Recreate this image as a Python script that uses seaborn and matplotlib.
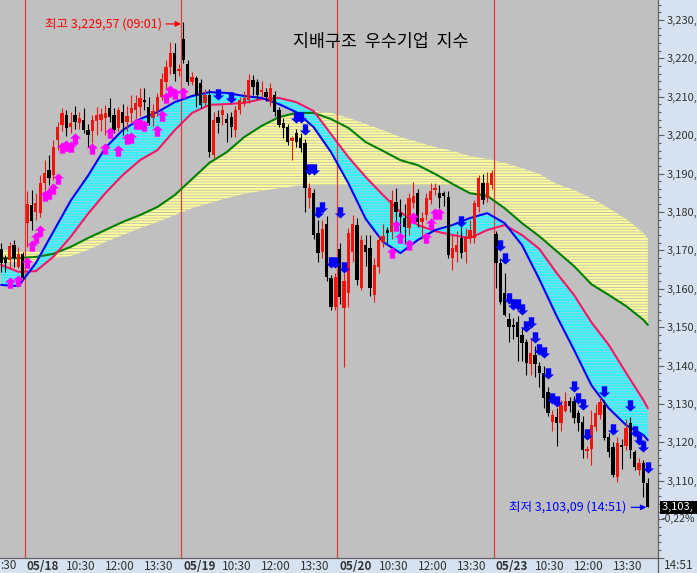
import numpy as np
import pandas as pd
import matplotlib
matplotlib.use("Agg")
import matplotlib.pyplot as plt
import matplotlib.transforms as mtransforms
from matplotlib.path import Path
from matplotlib.lines import Line2D
from matplotlib.ticker import FixedLocator, MultipleLocator, FuncFormatter
import seaborn as sns

# 10-minute bars, bar 0 = 05/18 09:00, 36 bars per session (09:00-14:50)
bars = list(range(-6, 144))
opens = [3170.4, 3168.0, 3167.5, 3171.4, 3165.7, 3169.1,
         3177.1, 3181.8, 3180.0, 3179.7, 3187.5, 3190.9, 3189.6, 3198.7, 3202.7, 3205.3,
         3202.1, 3205.3, 3203.1, 3204.0, 3201.4, 3201.1, 3203.7, 3204.0, 3204.5, 3207.1,
         3205.3, 3201.9, 3206.0, 3203.4, 3205.8, 3206.5, 3207.3, 3209.2, 3207.3, 3204.5,
         3206.3, 3209.9, 3213.8, 3217.8, 3221.4, 3216.7, 3225.0, 3218.6, 3213.9, 3214.9,
         3213.6, 3208.4, 3210.5, 3194.8, 3204.8, 3205.2, 3204.2, 3204.8, 3201.3, 3206.6,
         3208.4, 3209.2, 3214.4, 3213.9, 3211.2, 3211.2, 3208.6, 3210.5, 3206.6, 3203.2,
         3202.1, 3198.5, 3200.6, 3199.3, 3198.0, 3183.6, 3184.9, 3174.5, 3169.6, 3176.8,
         3162.8, 3155.3, 3170.4, 3155.0, 3158.9, 3169.6, 3176.6, 3160.2, 3171.4, 3170.6,
         3158.4, 3165.7, 3172.2, 3175.2, 3174.8, 3182.6, 3179.7, 3178.4, 3175.8, 3182.3,
         3184.9, 3177.4, 3179.2, 3183.1, 3185.7, 3184.9, 3184.9, 3183.9, 3168.0, 3169.6,
         3173.2, 3169.6, 3173.2, 3173.2, 3181.3, 3187.5, 3183.6, 3187.0, 3174.3, 3166.7,
         3158.9, 3152.1, 3150.6, 3151.3, 3148.0, 3146.1, 3140.4, 3142.8, 3139.9, 3138.1,
         3133.1, 3125.3, 3126.6, 3125.0, 3128.2, 3130.8, 3130.8, 3127.6, 3125.3, 3117.7,
         3118.2, 3124.0, 3127.1, 3129.7, 3121.4, 3118.8, 3111.0, 3119.2, 3119.0, 3125.0,
         3117.5, 3112.8, 3114.6, 3109.4]
highs = [3171.9, 3168.8, 3172.2, 3172.7, 3170.9, 3169.5,
         3185.5, 3185.7, 3185.0, 3189.6, 3193.5, 3194.8, 3198.7, 3203.4, 3207.1, 3206.5,
         3206.0, 3207.6, 3206.0, 3207.0, 3203.0, 3205.3, 3207.3, 3207.0, 3207.9, 3209.7,
         3207.0, 3207.3, 3208.0, 3207.5, 3210.5, 3210.5, 3212.3, 3212.3, 3210.0, 3208.0,
         3211.0, 3216.2, 3219.6, 3224.3, 3224.0, 3218.5, 3229.57, 3219.6, 3216.5, 3215.5,
         3214.5, 3212.0, 3212.0, 3206.0, 3206.6, 3207.9, 3205.8, 3206.0, 3207.5, 3210.0,
         3211.5, 3216.0, 3215.7, 3214.5, 3214.0, 3212.3, 3213.5, 3211.5, 3207.3, 3204.5,
         3203.0, 3199.8, 3201.5, 3200.5, 3199.0, 3187.5, 3186.0, 3178.0, 3178.0, 3179.0,
         3163.5, 3164.0, 3172.0, 3164.0, 3175.8, 3179.2, 3178.5, 3174.0, 3174.0, 3174.0,
         3168.0, 3174.0, 3177.0, 3176.0, 3185.7, 3186.2, 3183.3, 3182.0, 3185.0, 3187.7,
         3186.0, 3180.0, 3185.0, 3187.5, 3187.5, 3187.0, 3185.5, 3185.5, 3174.0, 3175.0,
         3176.0, 3175.7, 3178.0, 3183.0, 3189.6, 3190.0, 3190.5, 3191.0, 3175.0, 3168.0,
         3164.1, 3153.7, 3152.5, 3153.0, 3150.0, 3147.0, 3147.2, 3145.0, 3141.0, 3140.0,
         3134.5, 3128.5, 3129.0, 3131.0, 3133.0, 3131.9, 3132.0, 3128.5, 3127.0, 3119.0,
         3128.5, 3130.0, 3131.8, 3131.0, 3122.5, 3120.0, 3121.4, 3121.0, 3126.0, 3126.5,
         3118.0, 3116.0, 3115.5, 3110.7]
lows = [3164.4, 3164.4, 3165.4, 3165.7, 3165.4, 3162.3,
        3170.9, 3175.3, 3178.0, 3178.7, 3185.7, 3187.0, 3188.3, 3196.1, 3201.0, 3199.8,
        3200.5, 3201.5, 3201.5, 3200.5, 3196.9, 3198.0, 3200.0, 3201.0, 3200.0, 3203.4,
        3200.5, 3201.0, 3200.0, 3201.0, 3203.4, 3204.5, 3205.0, 3206.5, 3202.7, 3202.5,
        3205.0, 3209.2, 3212.0, 3216.0, 3214.0, 3215.5, 3218.8, 3213.1, 3213.0, 3207.3,
        3207.0, 3207.5, 3194.3, 3194.0, 3200.6, 3202.6, 3198.2, 3199.5, 3199.5, 3205.5,
        3207.5, 3208.5, 3210.5, 3209.5, 3210.0, 3209.0, 3207.5, 3205.0, 3202.0, 3199.3,
        3197.5, 3193.5, 3197.0, 3195.5, 3180.0, 3181.0, 3173.0, 3167.0, 3168.0, 3162.0,
        3154.5, 3154.5, 3156.0, 3139.6, 3155.3, 3167.0, 3161.0, 3159.8, 3166.0, 3158.0,
        3156.6, 3164.0, 3171.0, 3172.0, 3173.0, 3177.0, 3174.0, 3171.7, 3174.0, 3181.0,
        3176.0, 3173.0, 3178.0, 3182.0, 3184.5, 3181.0, 3181.5, 3168.0, 3165.0, 3167.0,
        3168.0, 3166.6, 3172.0, 3172.0, 3180.0, 3182.0, 3182.5, 3186.0, 3160.2, 3156.0,
        3153.0, 3146.1, 3147.0, 3141.3, 3141.3, 3137.6, 3137.6, 3137.0, 3134.4, 3129.0,
        3127.0, 3123.0, 3119.0, 3123.0, 3128.0, 3128.0, 3125.0, 3123.0, 3116.0, 3116.0,
        3114.0, 3123.0, 3126.0, 3120.5, 3116.2, 3111.0, 3109.7, 3113.0, 3118.0, 3116.0,
        3112.8, 3111.5, 3105.8, 3103.09]
closes = [3166.7, 3166.7, 3171.1, 3168.0, 3169.1, 3162.8,
          3182.1, 3177.7, 3182.3, 3187.5, 3190.1, 3188.8, 3196.9, 3202.1, 3205.8, 3201.9,
          3203.1, 3203.4, 3204.5, 3201.4, 3200.1, 3204.0, 3205.3, 3205.5, 3205.8, 3204.7,
          3201.4, 3206.5, 3203.1, 3205.0, 3207.1, 3208.4, 3209.7, 3208.6, 3203.1, 3206.3,
          3209.9, 3214.6, 3217.8, 3221.4, 3215.9, 3217.2, 3219.6, 3213.8, 3215.1, 3210.5,
          3207.9, 3210.5, 3195.6, 3204.0, 3203.2, 3206.6, 3203.2, 3202.1, 3206.6, 3209.2,
          3209.7, 3214.4, 3212.5, 3210.5, 3211.8, 3209.9, 3212.3, 3206.0, 3202.6, 3201.9,
          3198.2, 3199.3, 3198.2, 3196.7, 3186.2, 3186.2, 3174.0, 3169.3, 3175.6, 3163.1,
          3155.3, 3163.1, 3157.9, 3162.0, 3174.5, 3176.8, 3162.3, 3172.7, 3169.6, 3160.2,
          3166.2, 3172.7, 3173.8, 3174.5, 3183.1, 3180.0, 3178.7, 3176.1, 3183.6, 3184.1,
          3177.4, 3178.4, 3183.6, 3185.5, 3186.2, 3183.6, 3184.1, 3168.8, 3170.6, 3171.4,
          3169.3, 3173.5, 3175.3, 3182.3, 3188.8, 3183.1, 3187.5, 3190.1, 3166.7, 3156.6,
          3153.2, 3150.1, 3150.1, 3147.4, 3145.9, 3140.7, 3143.3, 3140.4, 3138.1, 3131.6,
          3127.6, 3127.1, 3125.0, 3129.7, 3130.8, 3129.6, 3126.3, 3125.0, 3118.0, 3118.2,
          3124.5, 3127.6, 3130.5, 3121.1, 3117.5, 3111.5, 3119.8, 3118.8, 3123.7, 3118.0,
          3113.6, 3114.6, 3109.4, 3103.1]

# moving-average lines (every 4th bar)
ma_bars = [-6, -2, 2, 6, 10, 14, 18, 22, 26, 30, 34, 38, 42, 46, 50, 54, 58, 62, 66, 70,
           74, 78, 82, 86, 90, 94, 98, 102, 106, 110, 114, 118, 122, 126, 130, 134, 138, 142, 143]
ma_fast = [3161.0, 3160.7, 3166.7, 3174.8, 3182.9, 3189.4, 3196.7, 3201.3, 3204.2, 3206.0,
           3208.6, 3210.2, 3211.2, 3211.0, 3210.2, 3209.7, 3208.1, 3206.0, 3202.1, 3195.6,
           3187.5, 3178.2, 3172.2, 3169.3, 3172.7, 3175.3, 3176.6, 3178.4, 3179.7, 3177.1,
           3171.4, 3162.5, 3152.9, 3144.1, 3134.9, 3128.9, 3124.5, 3121.9, 3120.6]
ma_mid = [3166.2, 3164.4, 3164.6, 3168.3, 3173.5, 3179.5, 3184.9, 3189.6, 3193.5, 3196.1,
          3201.3, 3205.8, 3207.9, 3208.1, 3208.4, 3209.4, 3209.7, 3208.6, 3206.3, 3200.3,
          3194.3, 3189.1, 3184.4, 3180.0, 3176.6, 3175.0, 3174.0, 3173.2, 3175.3, 3176.6,
          3174.0, 3170.4, 3164.1, 3158.4, 3151.3, 3145.4, 3138.1, 3131.0, 3128.9]
ma_slow = [3168.0, 3168.0, 3168.3, 3169.1, 3170.9, 3173.2, 3175.3, 3177.4, 3179.2, 3181.3,
           3184.4, 3188.6, 3192.8, 3195.6, 3199.5, 3202.4, 3204.7, 3205.8, 3205.8, 3204.2,
           3201.9, 3198.2, 3195.9, 3193.5, 3192.2, 3189.9, 3187.3, 3184.9, 3184.2, 3181.0,
           3177.1, 3173.7, 3169.8, 3165.9, 3161.2, 3158.4, 3155.5, 3151.9, 3150.6]
band_top = [3170.1, 3169.8, 3169.6, 3169.6, 3170.9, 3173.2, 3175.3, 3177.4, 3179.2, 3181.3,
            3184.4, 3188.6, 3192.8, 3195.6, 3199.5, 3202.4, 3204.7, 3205.8, 3206.3, 3205.8,
            3204.5, 3202.9, 3201.3, 3199.5, 3198.2, 3196.9, 3195.9, 3194.6, 3193.8, 3192.8,
            3191.4, 3189.9, 3187.3, 3185.7, 3183.6, 3181.0, 3178.2, 3174.5, 3173.2]
band_bottom = [3167.0, 3167.0, 3167.2, 3168.0, 3168.5, 3170.1, 3172.2, 3174.0, 3175.8, 3177.4,
               3179.2, 3181.0, 3182.3, 3183.6, 3184.7, 3185.5, 3186.2, 3186.8, 3187.0, 3187.0,
               3187.0, 3187.0, 3187.0, 3187.0, 3187.0, 3187.0, 3187.0, 3184.9, 3184.2, 3181.0,
               3177.1, 3173.7, 3169.8, 3165.9, 3161.2, 3158.4, 3155.5, 3151.9, 3150.6]

# buy / sell signal arrows
buy_bars = [-4, -2, 0, 1, 2, 3, 4, 5, 6, 7, 8, 9, 10, 11, 15, 18, 19, 21, 23, 24,
            25, 26, 27, 30, 31, 32, 33, 34, 36, 84, 85, 86, 88, 89, 92, 93, 94, 95]
buy_price = [3163.1, 3163.6, 3168.3, 3172.7, 3174.8, 3176.6, 3185.7, 3186.2, 3187.5, 3190.1,
             3198.2, 3198.7, 3198.5, 3200.6, 3198.0, 3198.0, 3202.1, 3197.4, 3200.6, 3200.8,
             3204.5, 3204.5, 3204.0, 3202.7, 3206.6, 3211.2, 3213.1, 3212.3, 3212.5,
             3170.9, 3177.9, 3174.8, 3172.9, 3180.0, 3174.8, 3178.4, 3181.0, 3181.0]
sell_bars = [44, 47, 62, 63, 64, 65, 66, 67, 68, 70, 71, 72, 73, 100, 109, 110, 111, 112, 113, 114,
             115, 116, 117, 118, 119, 120, 121, 122, 126, 127, 128, 129, 133, 135, 139, 140, 141, 142, 143]
sell_price = [3209.2, 3208.4, 3203.2, 3203.2, 3200.0, 3189.6, 3189.6, 3178.4, 3179.7, 3165.4,
              3165.4, 3178.4, 3164.1, 3176.1, 3169.8, 3166.4, 3156.0, 3154.5, 3154.5, 3153.2,
              3148.7, 3149.8, 3145.9, 3142.8, 3142.0, 3136.5, 3130.0, 3129.2, 3133.1, 3130.0,
              3128.4, 3120.6, 3131.8, 3121.9, 3128.2, 3121.4, 3119.3, 3117.5, 3112.0]

sessions = ["05/18", "05/19", "05/20", "05/23"]
intraday_labels = ["10:30", "12:00", "13:30"]
title = "지배구조  우수기업  지수"
high_label = "최고 3,229,57 (09:01)"
low_label = "최저 3,103,09 (14:51)"
last_price = 3103.09
last_label = "3,103,"
change_label = "-0,22%"
clock_label = "14:51"
prev_tail_label = ":30"   # visible tail of the previous session's 13:30 label

BARS_PER_DAY = 36
PLOT_BG = "#c0c0c0"
PANEL = "#d6e2ef"
UP_C = "#f0140a"
DOWN_C = "#000000"

sns.set_style("white")
plt.rcParams["font.family"] = ["Noto Sans CJK KR", "DejaVu Sans"]
plt.rcParams["axes.unicode_minus"] = False
plt.rcParams["hatch.linewidth"] = 0.6

fig = plt.figure(figsize=(6.97, 5.73), dpi=100, facecolor=PANEL)
ax = fig.add_axes([0, 15 / 573, 658 / 697, 558 / 573])
ax.set_facecolor(PLOT_BG)

# ribbons
ax.fill_between(ma_bars, band_bottom, band_top, facecolor="#ffff9c", edgecolor="#bdbdb0",
                hatch="------", linewidth=0, zorder=1)
ax.fill_between(ma_bars, ma_fast, ma_mid, facecolor="#2ef2f6", edgecolor="#a6cfe0",
                hatch="------", linewidth=0, zorder=2)

for d in range(len(sessions)):
    ax.axvline(d * BARS_PER_DAY - 0.5, color="#e63c3c", lw=0.9, zorder=2.5)

ma = pd.DataFrame({"bar": ma_bars, "fast": ma_fast, "mid": ma_mid, "slow": ma_slow})
sns.lineplot(data=ma, x="bar", y="slow", color="#008000", lw=1.5, ax=ax, zorder=3)
sns.lineplot(data=ma, x="bar", y="mid", color="#ff1466", lw=1.5, ax=ax, zorder=3)
sns.lineplot(data=ma, x="bar", y="fast", color="#0000ff", lw=1.5, ax=ax, zorder=3)

# candles
df = pd.DataFrame({"bar": bars, "open": opens, "high": highs, "low": lows, "close": closes})
cols = np.where(df["close"] >= df["open"], UP_C, DOWN_C)
ax.vlines(df["bar"], df["low"], df["high"], colors=cols, lw=0.8, zorder=4)
body_low = np.minimum(df["open"], df["close"])
body_h = np.maximum((df["close"] - df["open"]).abs(), 0.35)
ax.bar(df["bar"], body_h, bottom=body_low, width=0.76, color=cols, linewidth=0, zorder=5)

# block arrows, tip at the data point
codes = [Path.MOVETO] + [Path.LINETO] * 6 + [Path.CLOSEPOLY]
up_verts = [(0, 0), (0.5, -0.45), (0.24, -0.45), (0.24, -1), (-0.24, -1), (-0.24, -0.45), (-0.5, -0.45), (0, 0)]
down_verts = [(x, -y) for x, y in up_verts]
up_arrow = Path(up_verts, codes)
down_arrow = Path(down_verts, codes)
ax.scatter(buy_bars, buy_price, marker=up_arrow, s=260, color="#ff00ff", linewidths=0, zorder=6)
ax.scatter(sell_bars, sell_price, marker=down_arrow, s=260, color="#0000ff", linewidths=0, zorder=6)

# extreme annotations
hi_bar = bars[int(np.argmax(highs))]
lo_bar = bars[int(np.argmin(lows))]
arrow_kw = dict(arrowstyle="-|>", lw=0.9, mutation_scale=8, shrinkA=0, shrinkB=0)
ax.annotate("", xy=(hi_bar - 0.55, max(highs) - 0.6), xytext=(-15, 0), textcoords="offset pixels",
            arrowprops=dict(color="#ff0000", **arrow_kw), zorder=7)
ax.annotate(high_label, xy=(hi_bar - 0.55, max(highs) - 0.6), xytext=(-19, 0),
            textcoords="offset pixels", ha="right", va="center", color="#ff0000", fontsize=9)
ax.annotate("", xy=(lo_bar - 0.35, min(lows)), xytext=(-15, 0), textcoords="offset pixels",
            arrowprops=dict(color="#0000ff", **arrow_kw), zorder=7)
ax.annotate(low_label, xy=(lo_bar - 0.35, min(lows)), xytext=(-20, 0),
            textcoords="offset pixels", ha="right", va="center", color="#0000ff", fontsize=9)

ax.text(0.578, 0.925, title, transform=ax.transAxes, ha="center", va="center",
        fontsize=12.5, color="#000000")

# price scale on the right (labels show only what fits in the panel)
ax.set_ylim(3089.9, 3235.2)
ax.set_xlabel("")
ax.set_ylabel("")
ax.yaxis.tick_right()
ax.yaxis.set_major_locator(FixedLocator(np.arange(3090, 3240, 10)))
ax.yaxis.set_minor_locator(MultipleLocator(2))
ax.yaxis.set_major_formatter(FuncFormatter(lambda v, p: f"{int(round(v)):,}," if v > 3105 else ""))
ax.tick_params(axis="y", which="major", length=4.5, width=0.8, color="#606060",
               labelcolor="#333333", labelsize=8, pad=1.5)
ax.tick_params(axis="y", which="minor", length=2.5, width=0.8, color="#606060")

ytrans = mtransforms.blended_transform_factory(ax.transAxes, ax.transData)
ytrans_box = mtransforms.offset_copy(ytrans, fig=fig, x=4, y=0, units="dots")
ax.text(1.0, last_price, last_label + " ", transform=ytrans_box,
        ha="left", va="center", color="white", fontsize=8, clip_on=False,
        bbox=dict(boxstyle="square,pad=0.15", fc="black", ec="none"))
ax.text(1.0, 3100, change_label, transform=ytrans_box, ha="left", va="center",
        color="#333333", fontsize=7.5, clip_on=False)

# time scale at the bottom
day_pos = [d * BARS_PER_DAY - 0.5 for d in range(len(sessions))]
sep_pos = []
sep_lab = []
sep_bold = []
for d, s in zip(day_pos, sessions):
    sep_pos.append(d)
    sep_lab.append(s)
    sep_bold.append(True)
    for k, lab in enumerate(intraday_labels, start=1):
        sep_pos.append(d + 9 * k)
        sep_lab.append(lab)
        sep_bold.append(False)

ax.set_xticks(sep_pos)
ax.set_xticklabels([])
ax.set_xlim(-6.26, 145.35)
ax.tick_params(axis="x", which="major", length=11, width=0.9, color="#606060", direction="out")
xtrans = mtransforms.blended_transform_factory(ax.transData, ax.transAxes)
xtrans = mtransforms.offset_copy(xtrans, fig=fig, x=2, y=-1.5, units="dots")
for pos, lab, bold in zip(sep_pos, sep_lab, sep_bold):
    ax.text(pos, 0, lab, transform=xtrans, ha="left", va="top", fontsize=8.5,
            fontweight="bold" if bold else "normal", color="#333333", clip_on=False)
fig.text(0.5 / 697, 7.5 / 573, prev_tail_label, ha="left", va="center", fontsize=8.5, color="#333333")
fig.text(664 / 697, 7.5 / 573, clock_label, ha="left", va="center", fontsize=8.5, color="#333333")
fig.add_artist(Line2D([658 / 697, 658 / 697], [0, 15 / 573], color="#606060", lw=0.9))

for side in ["left", "top"]:
    ax.spines[side].set_visible(False)
for side in ["right", "bottom"]:
    ax.spines[side].set_color("#606060")
    ax.spines[side].set_linewidth(0.9)

fig.savefig("out.png", dpi=100, facecolor=PANEL)
plt.close(fig)
